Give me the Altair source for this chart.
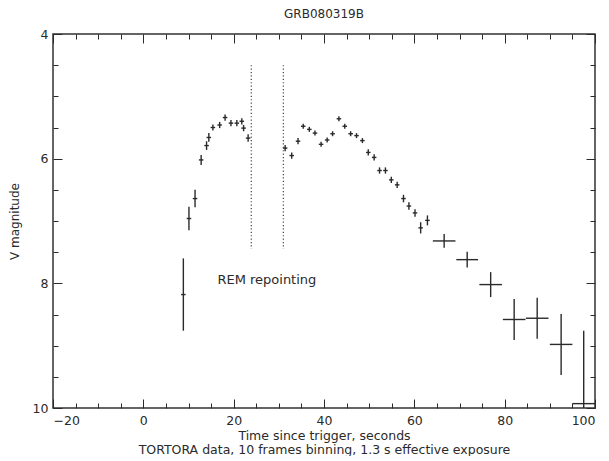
import altair as alt
import pandas as pd

# Light-curve points: time since trigger (s), V magnitude, and half-widths of error bars
t = [8.86, 10.1, 11.45, 12.8, 14.0, 14.5, 15.4, 16.9, 18.1, 19.4, 20.7, 21.8, 22.2, 23.2,
     31.4, 32.85, 34.25, 35.4, 36.75, 38.0, 39.35, 40.7, 41.9, 43.3, 44.6, 45.9, 47.2, 48.5,
     49.8, 51.1, 52.3, 53.6, 54.9, 56.2, 57.6, 58.8, 60.15, 61.4, 62.9,
     66.6, 71.7, 76.9, 82.1, 87.2, 92.5, 97.5]
mag = [8.18, 6.96, 6.64, 6.02, 5.79, 5.66, 5.50, 5.46, 5.34, 5.43, 5.43, 5.40, 5.51, 5.67,
       5.83, 5.95, 5.72, 5.48, 5.53, 5.59, 5.77, 5.70, 5.60, 5.36, 5.48, 5.60, 5.63, 5.71,
       5.90, 5.98, 6.19, 6.19, 6.34, 6.42, 6.64, 6.76, 6.87, 7.11, 6.99,
       7.32, 7.62, 8.02, 8.58, 8.56, 8.98, 9.93]
terr = [0.5] * 39 + [2.5, 2.4, 2.5, 2.5, 2.5, 2.5, 2.5]
merr = [0.58, 0.19, 0.14, 0.08, 0.07, 0.07, 0.05, 0.05, 0.05, 0.05, 0.05, 0.05, 0.05, 0.06,
        0.05, 0.05, 0.05, 0.04, 0.04, 0.04, 0.04, 0.04, 0.04, 0.04, 0.04, 0.04, 0.04, 0.04,
        0.05, 0.05, 0.05, 0.05, 0.05, 0.05, 0.06, 0.06, 0.06, 0.09, 0.08,
        0.11, 0.125, 0.2, 0.33, 0.33, 0.49, 1.17]

gap_t = [23.9, 31.0]
gap_top = [4.5, 4.5]
gap_bottom = [7.45, 7.45]

label_t = [16.4]
label_mag = [7.94]
label_text = ["REM repointing"]

x_ticks = list(range(-20, 101, 5))
y_ticks = [4 + 0.5 * i for i in range(13)]

W, H = 542, 374
FONT = "DejaVu Sans"
INK = "#2a2a2a"

df = pd.DataFrame({"t": t, "mag": mag, "terr": terr, "merr": merr})
gaps = pd.DataFrame({"t": gap_t, "top": gap_top, "bottom": gap_bottom})
labels = pd.DataFrame({"t": label_t, "mag": label_mag, "text": label_text})

xs = alt.Scale(domain=[-20, 100], nice=False, zero=False)
ys = alt.Scale(domain=[4, 10], reverse=True, nice=False, zero=False)

x_tick_size = {"condition": {"test": "datum.value % 20 === 0", "value": 9}, "value": 5}
y_tick_size = {"condition": {"test": "datum.value % 2 === 0", "value": 9}, "value": 5}

common = dict(grid=False, domain=False, labelFont=FONT, titleFont=FONT,
              labelColor=INK, titleColor=INK, tickColor=INK, tickWidth=1)

# bottom labelled x axis, left labelled y axis
x_main = alt.Axis(values=x_ticks, ticks=False, format="d",
                  labelExpr="datum.value % 20 === 0 ? datum.label : ''",
                  labelFontSize=12.5, labelPadding=6, titleFontSize=12.5, titleFontWeight="normal",
                  titlePadding=3, titleLineHeight=14, **common)
y_main = alt.Axis(values=y_ticks, ticks=False, format="d",
                  labelExpr="datum.value % 2 === 0 ? datum.label : ''",
                  labelFontSize=12.5, labelPadding=5, titleFontSize=12, titleFontWeight="normal",
                  titlePadding=11, **common)
# inward ticks on bottom and left edges
x_in_bottom = alt.Axis(orient="top", offset=-H, values=x_ticks, labels=False, title=None,
                       tickSize=x_tick_size, **common)
y_in_left = alt.Axis(orient="right", offset=-W, values=y_ticks, labels=False, title=None,
                     tickSize=y_tick_size, **common)
# inward ticks on top and right edges
x_in_top = alt.Axis(orient="bottom", offset=-H, values=x_ticks, labels=False, title=None,
                    tickSize=x_tick_size, **common)
y_in_right = alt.Axis(orient="left", offset=-W, values=y_ticks, labels=False, title=None,
                      tickSize=y_tick_size, **common)

base = alt.Chart(df).transform_calculate(
    t_lo="datum.t - datum.terr", t_hi="datum.t + datum.terr",
    m_lo="datum.mag - datum.merr", m_hi="datum.mag + datum.merr",
)

vbars = base.mark_rule(color=INK, strokeWidth=1.4, clip=True).encode(
    x=alt.X("t:Q", scale=xs, axis=x_main,
            title=["Time since trigger, seconds",
                   "TORTORA data, 10 frames binning, 1.3 s effective exposure"]),
    y=alt.Y("m_lo:Q", scale=ys, axis=y_main, title="V magnitude"),
    y2="m_hi:Q",
)

hbars = base.mark_rule(color=INK, strokeWidth=1.4, clip=True).encode(
    x=alt.X("t_lo:Q", scale=xs, axis=x_in_bottom),
    x2="t_hi:Q",
    y=alt.Y("mag:Q", scale=ys, axis=y_in_left),
)

gap_lines = alt.Chart(gaps).mark_rule(color="#444", strokeWidth=1.2, strokeDash=[1.2, 2.2]).encode(
    x=alt.X("t:Q", scale=xs, axis=x_in_top),
    y=alt.Y("top:Q", scale=ys, axis=y_in_right),
    y2="bottom:Q",
)

text = alt.Chart(labels).mark_text(align="left", baseline="middle", font=FONT, fontSize=13,
                                   color=INK).encode(
    x=alt.X("t:Q", scale=xs, axis=None),
    y=alt.Y("mag:Q", scale=ys, axis=None),
    text="text:N",
)

chart = alt.layer(vbars, hbars, gap_lines, text).resolve_axis(
    x="independent", y="independent"
).properties(
    width=W, height=H,
    title=alt.TitleParams("GRB080319B", font=FONT, fontSize=12, fontWeight="normal",
                          color=INK, offset=7),
    padding={"left": 0, "top": 0, "right": 0, "bottom": 0},
).configure_view(
    stroke="#333", strokeWidth=1.5
)

chart.save("out.html", embed_options={"renderer": "svg", "actions": False})
